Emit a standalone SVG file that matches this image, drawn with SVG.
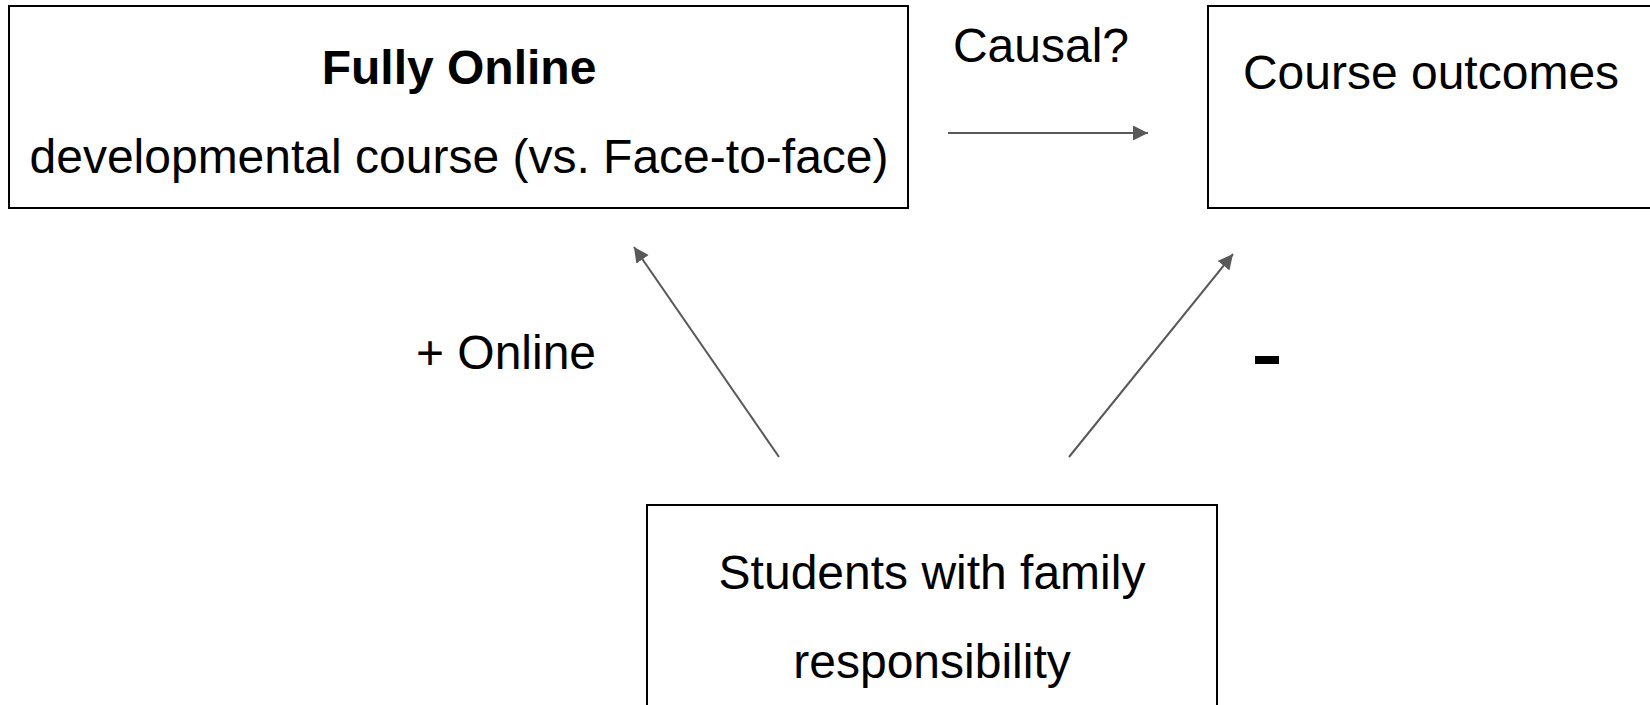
<svg xmlns="http://www.w3.org/2000/svg" width="1650" height="705" viewBox="0 0 1650 705">
  <defs>
    <marker id="arrowhead" markerUnits="userSpaceOnUse" markerWidth="16" markerHeight="16" refX="15" refY="7.5" orient="auto">
      <path d="M0,0 L15,7.5 L0,15 z" fill="#595959"/>
    </marker>
    <style>
      .box { fill: #ffffff; stroke: #000000; stroke-width: 2; }
      .label { font-family: "Liberation Sans", Arial, sans-serif; font-size: 48px; fill: #000000; }
      .bold { font-weight: bold; }
      .conn { stroke: #595959; stroke-width: 2; fill: none; marker-end: url(#arrowhead); }
    </style>
  </defs>

  <rect width="1650" height="705" fill="#ffffff"/>

  <!-- Treatment: course delivery mode -->
  <g id="node-online">
    <rect class="box" x="9" y="6" width="899" height="202"/>
    <text class="label bold" x="459" y="84" text-anchor="middle">Fully Online</text>
    <text class="label" x="459" y="173" text-anchor="middle">developmental course (vs. Face-to-face)</text>
  </g>

  <!-- Outcome -->
  <g id="node-outcomes">
    <rect class="box" x="1208" y="6" width="460" height="202"/>
    <text class="label" x="1431" y="89" text-anchor="middle">Course outcomes</text>
  </g>

  <!-- Confounder -->
  <g id="node-family">
    <rect class="box" x="647" y="505" width="570" height="220"/>
    <text class="label" x="932" y="589" text-anchor="middle">Students with family</text>
    <text class="label" x="932" y="678" text-anchor="middle">responsibility</text>
  </g>

  <!-- Connectors -->
  <g id="connectors">
    <line class="conn" x1="948" y1="133" x2="1148" y2="133"/>
    <line class="conn" x1="779" y1="457" x2="634" y2="247"/>
    <line class="conn" x1="1069" y1="457" x2="1233" y2="254"/>
  </g>

  <!-- Edge labels -->
  <g id="edge-labels">
    <text class="label" x="1041" y="62" text-anchor="middle">Causal?</text>
    <text class="label" x="506" y="369" text-anchor="middle">+ Online</text>
    <rect x="1255" y="356" width="24" height="8" fill="#000000"/>
  </g>
</svg>
